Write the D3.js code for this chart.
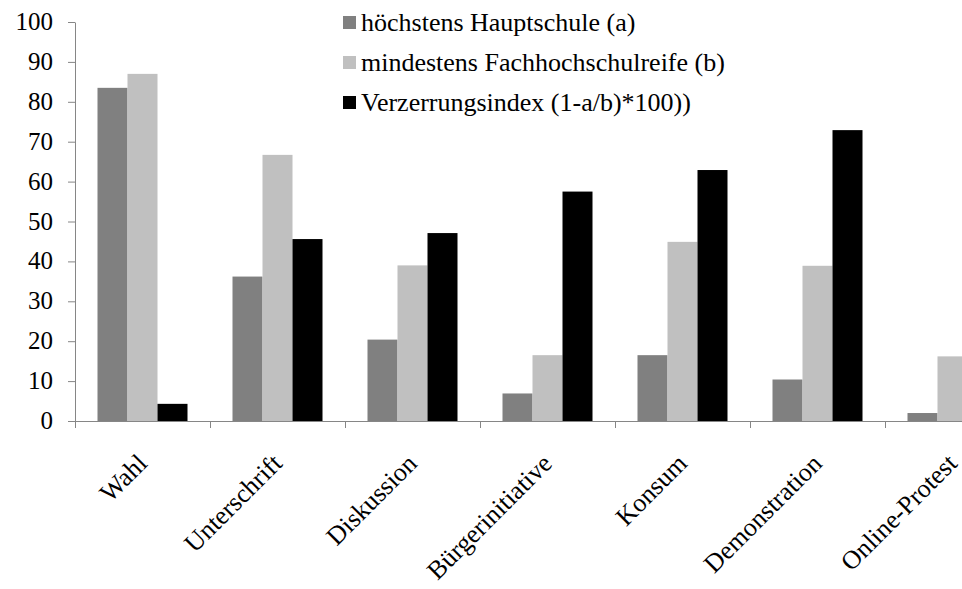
<!DOCTYPE html>
<html>
<head>
<meta charset="utf-8">
<script src="https://cdn.jsdelivr.net/npm/d3@7"></script>
</head>
<body style="margin:0;background:#fff">
<div id="chart"></div>
<script>
// categories and series
var categories = ["Wahl", "Unterschrift", "Diskussion", "Bürgerinitiative", "Konsum", "Demonstration", "Online-Protest"];
var seriesNames = ["höchstens Hauptschule (a)", "mindestens Fachhochschulreife (b)", "Verzerrungsindex (1-a/b)*100))"];
var hauptschule = [83.5, 36.2, 20.4, 6.9, 16.5, 10.4, 2.0];
var fachhochschule = [87.0, 66.7, 39.0, 16.5, 44.9, 38.9, 16.2];
var verzerrung = [4.3, 45.6, 47.1, 57.5, 62.9, 72.9, null]; // last one is cut off in the picture
var yTicks = [0, 10, 20, 30, 40, 50, 60, 70, 80, 90, 100];
var colors = ["#808080", "#c0c0c0", "#000000"];

var width = 962, height = 589;
var plotLeft = 75, plotTop = 22, plotBottom = 421;
var catWidth = 135;
var serif = "'Liberation Serif', 'Times New Roman', Tinos, serif";

var svg = d3.select("#chart")
  .append("svg")
  .attr("width", width)
  .attr("height", height)
  .style("display", "block")
  .style("overflow", "hidden")
  .style("font-family", serif);

// x scale runs past the right edge, the original is cropped there
var x = d3.scaleBand()
  .domain(categories)
  .range([plotLeft, plotLeft + catWidth * categories.length])
  .padding(0);

var xInner = d3.scaleBand()
  .domain([0, 1, 2])
  .range([22.5, catWidth - 22.5])
  .padding(0);

var y = d3.scaleLinear()
  .domain([0, 100])
  .range([plotBottom, plotTop]);

// Y axis (line and ticks from d3, labels drawn separately)
var yAxis = svg.append("g")
  .attr("transform", "translate(" + plotLeft + ",0)")
  .call(d3.axisLeft(y).tickValues(yTicks).tickSize(7).tickSizeOuter(0).tickFormat(""));
yAxis.select(".domain").attr("stroke", "#868686");
yAxis.selectAll(".tick line").attr("stroke", "#868686");

svg.append("g")
  .selectAll("text")
  .data(yTicks)
  .enter()
  .append("text")
  .attr("text-anchor", "end")
  .style("font-family", serif)
  .style("font-size", "25px")
  .attr("transform", function (d) { return "translate(" + (plotLeft - 22) + "," + (y(d) + 8) + ") rotate(0)"; })
  .text(function (d) { return d; });

// bars
var data = [];
categories.forEach(function (c, i) {
  [hauptschule[i], fachhochschule[i], verzerrung[i]].forEach(function (v, s) {
    if (v !== null) data.push({ cat: c, s: s, v: v });
  });
});

svg.append("g")
  .selectAll("rect")
  .data(data)
  .enter()
  .append("rect")
  .attr("x", function (d) { return x(d.cat) + xInner(d.s); })
  .attr("y", function (d) { return y(d.v); })
  .attr("width", xInner.bandwidth())
  .attr("height", function (d) { return y(0) - y(d.v); })
  .attr("fill", function (d) { return colors[d.s]; });

// X axis line and boundary ticks
var xa = svg.append("g");
xa.append("line")
  .attr("x1", x.range()[0]).attr("x2", x.range()[1])
  .attr("y1", y(0) + 0.5).attr("y2", y(0) + 0.5)
  .attr("stroke", "#868686");
xa.selectAll(".bt")
  .data(categories.concat(["end"]))
  .enter()
  .append("line")
  .attr("x1", function (d, i) { return x.range()[0] + i * x.step() + 0.5; })
  .attr("x2", function (d, i) { return x.range()[0] + i * x.step() + 0.5; })
  .attr("y1", y(0)).attr("y2", y(0) + 7)
  .attr("stroke", "#868686");

// rotated category labels
svg.append("g")
  .selectAll("text")
  .data(categories)
  .enter()
  .append("text")
  .attr("text-anchor", "end")
  .style("font-family", serif)
  .style("font-size", "26px")
  .attr("transform", function (d) {
    return "translate(" + (x(d) + x.bandwidth() / 2 + 6) + "," + (plotBottom + 44) + ") rotate(-45)";
  })
  .text(function (d) { return d; });

// legend
var legendX = 343, legendY = 31, rowH = 40;
svg.append("g")
  .selectAll("rect")
  .data(seriesNames)
  .enter()
  .append("rect")
  .attr("x", legendX)
  .attr("y", function (d, i) { return legendY + i * rowH - 15; })
  .attr("width", 13).attr("height", 13)
  .attr("fill", function (d, i) { return colors[i]; });
svg.append("g")
  .selectAll("text")
  .data(seriesNames)
  .enter()
  .append("text")
  .style("font-family", serif)
  .style("font-size", "26px")
  .attr("transform", function (d, i) { return "translate(" + (legendX + 18) + "," + (legendY + i * rowH) + ") rotate(0)"; })
  .text(function (d) { return d; });
</script>
</body>
</html>
